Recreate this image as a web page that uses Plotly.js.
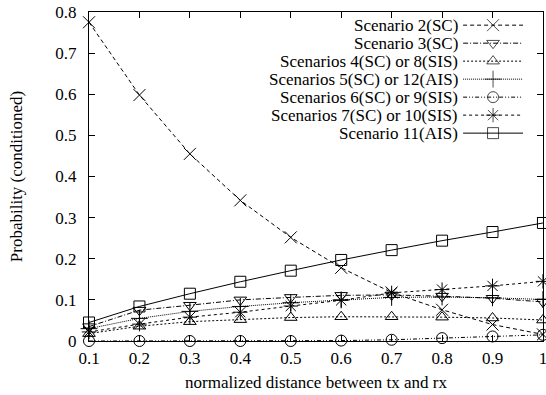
<!DOCTYPE html>
<html>
<head>
<meta charset="utf-8">
<script src="https://cdn.plot.ly/plotly-3.0.1.min.js"></script>
<style>html,body{margin:0;padding:0;background:#fff;}#chart{width:546px;height:395px;}</style>
</head>
<body>
<div id="chart"></div>
<script>
// ---- data ----
const distance = [0.1, 0.2, 0.3, 0.4, 0.5, 0.6, 0.7, 0.8, 0.9, 1.0];
const seriesNames = [
  "Scenario 2(SC)",
  "Scenario 3(SC)",
  "Scenarios 4(SC) or 8(SIS)",
  "Scenarios 5(SC) or 12(AIS)",
  "Scenarios 6(SC) or 9(SIS)",
  "Scenarios 7(SC) or 10(SIS)",
  "Scenario 11(AIS)"
];
const sc2    = [0.775, 0.598, 0.455, 0.342, 0.252, 0.178, 0.118, 0.076, 0.040, 0.016];
const sc3    = [0.035, 0.075, 0.087, 0.100, 0.106, 0.111, 0.112, 0.109, 0.104, 0.095];
const sc4_8  = [0.018, 0.036, 0.047, 0.052, 0.057, 0.059, 0.059, 0.058, 0.056, 0.051];
const sc5_12 = [0.030, 0.055, 0.072, 0.084, 0.093, 0.100, 0.106, 0.107, 0.105, 0.101];
const sc6_9  = [0.000, 0.000, 0.000, 0.000, 0.000, 0.001, 0.003, 0.007, 0.011, 0.015];
const sc7_10 = [0.022, 0.041, 0.058, 0.070, 0.085, 0.099, 0.117, 0.125, 0.134, 0.145];
const sc11   = [0.045, 0.084, 0.115, 0.144, 0.171, 0.197, 0.221, 0.244, 0.265, 0.287];
const xTickVals = [0.1, 0.2, 0.3, 0.4, 0.5, 0.6, 0.7, 0.8, 0.9, 1.0];
const xTickText = ["0.1", "0.2", "0.3", "0.4", "0.5", "0.6", "0.7", "0.8", "0.9", "1"];
const yTickVals = [0, 0.1, 0.2, 0.3, 0.4, 0.5, 0.6, 0.7, 0.8];
const yTickText = ["0", "0.1", "0.2", "0.3", "0.4", "0.5", "0.6", "0.7", "0.8"];

// ---- styles ----
const seriesValues = [sc2, sc3, sc4_8, sc5_12, sc6_9, sc7_10, sc11];
const styles = [
  {dash: "4px,3px", symbol: "x-thin-open", size: 12},
  {dash: "5px,2px,1px,2px", symbol: "triangle-down-open", size: 11},
  {dash: "2px,2px", symbol: "triangle-up-open", size: 11},
  {dash: "1px,1px", symbol: "cross-thin-open", size: 12},
  {dash: "4px,2px,1px,2px,1px,2px", symbol: "circle-open", size: 11},
  {dash: "3px,3px", symbol: "asterisk-open", size: 12},
  {dash: "solid", symbol: "square-open", size: 11}
];
const FONT = "Liberation Serif, serif";

const traces = [];
seriesValues.forEach((vals, i) => {
  const s = styles[i];
  traces.push({
    type: "scatter", mode: "lines+markers", name: seriesNames[i],
    x: distance, y: vals, showlegend: false, cliponaxis: false,
    line: {color: "#000", width: 1, dash: s.dash},
    marker: {symbol: s.symbol, size: s.size, color: "#000", line: {color: "#000", width: 1}}
  });
});

// gnuplot-style key: text right-aligned, sample line to the right (drawn on an overlay axis 0..1)
const keyTextX = 0.817, keyLineX0 = 0.824, keyLineX1 = 0.956, keyTop = 0.960, keyStep = 0.0547;
const annotations = [];
seriesNames.forEach((name, i) => {
  const s = styles[i];
  const yy = keyTop - i * keyStep;
  const xm = (keyLineX0 + keyLineX1) / 2;
  traces.push({
    type: "scatter", mode: "lines+markers", xaxis: "x2", yaxis: "y2", showlegend: false,
    hoverinfo: "skip",
    x: [keyLineX0, xm, keyLineX1], y: [yy, yy, yy],
    line: {color: "#000", width: 1, dash: s.dash},
    marker: {symbol: s.symbol, size: [0, s.size, 0], color: "#000", line: {color: "#000", width: 1}}
  });
  annotations.push({
    xref: "paper", yref: "paper", x: keyTextX, y: yy, xanchor: "right", yanchor: "middle",
    text: name, showarrow: false, font: {family: FONT, size: 17, color: "#000"}
  });
});

const layout = {
  width: 546, height: 395,
  margin: {l: 89, r: 3, t: 12, b: 54},
  paper_bgcolor: "#fff", plot_bgcolor: "#fff",
  font: {family: FONT, size: 17, color: "#000"},
  showlegend: false,
  xaxis: {
    range: [0.1, 1.0001], tickvals: xTickVals, ticktext: xTickText,
    ticks: "inside", ticklen: 6, tickcolor: "#000", mirror: "ticks",
    showline: true, linecolor: "#000", linewidth: 1, showgrid: false, zeroline: false,
    ticklabelstandoff: 2, ticklabeloverflow: "allow",
    tickfont: {family: FONT, size: 17},
    title: {text: "normalized distance between tx and rx", font: {family: FONT, size: 17}, standoff: 8}
  },
  yaxis: {
    range: [0, 0.8], tickvals: yTickVals, ticktext: yTickText,
    ticks: "inside", ticklen: 6, tickcolor: "#000", mirror: "ticks",
    showline: true, linecolor: "#000", linewidth: 1, showgrid: false, zeroline: false,
    ticklabelstandoff: 8,
    tickfont: {family: FONT, size: 17},
    title: {text: "Probability (conditioned)", font: {family: FONT, size: 17}, standoff: 28}
  },
  xaxis2: {overlaying: "x", range: [0, 1], visible: false, fixedrange: true},
  yaxis2: {overlaying: "y", range: [0, 1], visible: false, fixedrange: true},
  annotations: annotations
};

Plotly.newPlot("chart", traces, layout, {displayModeBar: false, staticPlot: true});
</script>
</body>
</html>
